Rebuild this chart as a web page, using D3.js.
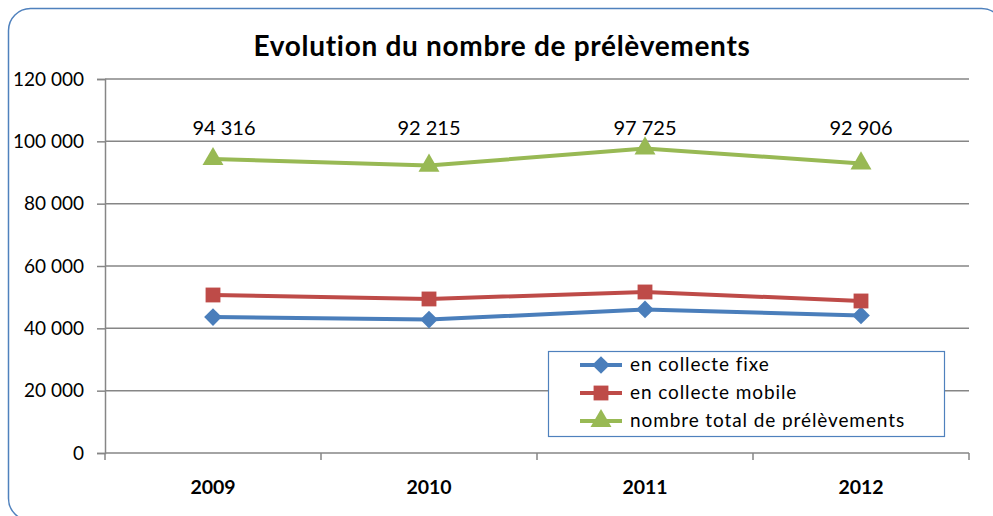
<!DOCTYPE html>
<html>
<head>
<meta charset="utf-8">
<script src="https://cdn.jsdelivr.net/npm/d3@7"></script>
<style>
  body { margin: 0; background: #fff; }
  svg { display: block; font-family: Lato, "Open Sans", sans-serif; }
</style>
</head>
<body>
<script>
// data
const years = ["2009", "2010", "2011", "2012"];
const fixe = [43616, 42795, 46060, 44129];
const mobile = [50700, 49420, 51665, 48777];
const total = [94316, 92215, 97725, 92906];
const totalLabels = ["94 316", "92 215", "97 725", "92 906"];
const yTicks = [0, 20000, 40000, 60000, 80000, 100000, 120000];
const seriesNames = ["en collecte fixe", "en collecte mobile", "nombre total de prélèvements"];
const colors = ["#4a7ebb", "#be4b48", "#98b954"];
const markers = ["diamond", "square", "triangle"];

const width = 993, height = 516;
const margin = { top: 79, right: 24, bottom: 63, left: 105 };

const svg = d3.select("body").append("svg")
    .attr("width", width)
    .attr("height", height);

// outer frame
svg.append("rect")
    .attr("x", 8.5).attr("y", 8.5)
    .attr("width", 995).attr("height", 512)
    .attr("rx", 22).attr("ry", 22)
    .attr("fill", "none")
    .attr("stroke", "#4f81bd")
    .attr("stroke-width", 1.5);

svg.append("text")
    .attr("x", 502).attr("y", 56)
    .attr("text-anchor", "middle")
    .attr("font-size", "28px")
    .attr("font-weight", "bold")
    .attr("letter-spacing", "0.7px")
    .text("Evolution du nombre de prélèvements");

const x = d3.scaleBand()
    .domain(years)
    .range([margin.left, width - margin.right]);

const y = d3.scaleLinear()
    .domain([0, 120000])
    .range([height - margin.bottom, margin.top]);

const fmt = d => d3.format(",")(d).replace(/,/g, " ");

// gridlines
svg.append("g")
    .selectAll("line")
    .data(yTicks.slice(1))
    .enter()
    .append("line")
    .attr("x1", margin.left).attr("x2", width - margin.right)
    .attr("y1", d => y(d)).attr("y2", d => y(d))
    .attr("stroke", "#868686")
    .attr("stroke-width", 1.5);

// y axis
const yAxis = svg.append("g")
    .attr("transform", "translate(" + margin.left + ",0)")
    .call(d3.axisLeft(y).tickValues(yTicks).tickFormat(fmt).tickSize(8).tickPadding(13));
yAxis.select(".domain").attr("stroke", "#868686").attr("stroke-width", 1.5);
yAxis.selectAll(".tick line").attr("stroke", "#868686").attr("stroke-width", 1.5);
yAxis.selectAll("text")
    .attr("font-size", "19px")
    .attr("font-family", "Lato, sans-serif")
    .attr("fill", "#000");

// x axis, ticks between categories
const xAxisY = y(0);
svg.append("line")
    .attr("x1", margin.left).attr("x2", width - margin.right)
    .attr("y1", xAxisY).attr("y2", xAxisY)
    .attr("stroke", "#868686").attr("stroke-width", 1.5);
const bounds = years.map(d => x(d)).concat([x(years[years.length - 1]) + x.bandwidth()]);
svg.append("g")
    .selectAll("line")
    .data(bounds)
    .enter()
    .append("line")
    .attr("x1", d => d).attr("x2", d => d)
    .attr("y1", xAxisY).attr("y2", xAxisY + 7)
    .attr("stroke", "#868686").attr("stroke-width", 1.5);
svg.append("g")
    .selectAll("text")
    .data(years)
    .enter()
    .append("text")
    .attr("x", d => x(d) + x.bandwidth() / 2)
    .attr("y", 494)
    .attr("text-anchor", "middle")
    .attr("font-size", "19.5px")
    .attr("font-weight", "bold")
    .text(d => d);

const series = [fixe, mobile, total];
const cx = (d, i) => x(years[i]) + x.bandwidth() / 2;

const symbolFor = {
    diamond: d3.symbol().type(d3.symbolDiamond2).size(200),
    square: d3.symbol().type(d3.symbolSquare).size(220),
    triangle: d3.symbol().type(d3.symbolTriangle).size(190)
};

const line = d3.line()
    .x((d, i) => cx(d, i))
    .y(d => y(d));

series.forEach((vals, s) => {
    svg.append("path")
        .datum(vals)
        .attr("d", line)
        .attr("fill", "none")
        .attr("stroke", colors[s])
        .attr("stroke-width", 4);
    svg.append("g")
        .selectAll("path")
        .data(vals)
        .enter()
        .append("path")
        .attr("d", symbolFor[markers[s]])
        .attr("transform", (d, i) => "translate(" + cx(d, i) + "," + y(d) + ")")
        .attr("fill", colors[s]);
});

// labels on the total line (first one was nudged right in the original)
svg.append("g")
    .selectAll("text")
    .data(total)
    .enter()
    .append("text")
    .attr("x", (d, i) => cx(d, i) + (i == 0 ? 11 : 0))
    .attr("y", 135)
    .attr("text-anchor", "middle")
    .attr("font-size", "20px")
    .text((d, i) => totalLabels[i]);

// legend
const legend = svg.append("g");
legend.append("rect")
    .attr("x", 548.5).attr("y", 351.5)
    .attr("width", 396).attr("height", 85)
    .attr("fill", "#fff")
    .attr("stroke", "#4f81bd")
    .attr("stroke-width", 1.2);
seriesNames.forEach((name, s) => {
    const ly = 365 + s * 28;
    legend.append("line")
        .attr("x1", 580).attr("x2", 622)
        .attr("y1", ly).attr("y2", ly)
        .attr("stroke", colors[s]).attr("stroke-width", 4);
    legend.append("path")
        .attr("d", symbolFor[markers[s]])
        .attr("transform", "translate(601," + ly + ")")
        .attr("fill", colors[s]);
    legend.append("text")
        .attr("x", 630).attr("y", ly + 6)
        .attr("font-size", "19px")
        .attr("letter-spacing", "0.9px")
        .text(name);
});
</script>
</body>
</html>
